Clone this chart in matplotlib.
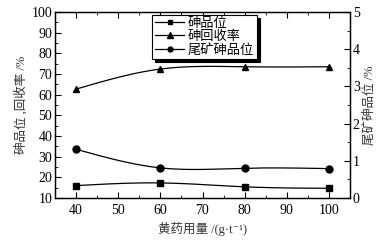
import numpy as np
import matplotlib.pyplot as plt
from matplotlib.ticker import MultipleLocator

plt.rcParams['font.family'] = ['Liberation Serif', 'Noto Sans CJK SC', 'DejaVu Serif']

dose = [40, 60, 80, 100]
grade = [16.0, 17.3, 15.4, 14.7]
recovery = [62.7, 72.4, 73.5, 73.5]
tail_grade = [1.31, 0.81, 0.80, 0.79]


def smooth(x, y, n=200):
    # natural cubic spline, only for drawing the connecting curve
    x = np.asarray(x, float)
    y = np.asarray(y, float)
    k = len(x)
    h = np.diff(x)
    A = np.zeros((k, k))
    b = np.zeros(k)
    A[0, 0] = A[-1, -1] = 1
    for i in range(1, k - 1):
        A[i, i - 1] = h[i - 1]
        A[i, i] = 2 * (h[i - 1] + h[i])
        A[i, i + 1] = h[i]
        b[i] = 6 * ((y[i + 1] - y[i]) / h[i] - (y[i] - y[i - 1]) / h[i - 1])
    M = np.linalg.solve(A, b)
    xs = np.linspace(x[0], x[-1], n)
    idx = np.clip(np.searchsorted(x, xs) - 1, 0, k - 2)
    x0, x1 = x[idx], x[idx + 1]
    hh = x1 - x0
    ys = (M[idx] * (x1 - xs) ** 3 / (6 * hh) + M[idx + 1] * (xs - x0) ** 3 / (6 * hh)
          + (y[idx] / hh - M[idx] * hh / 6) * (x1 - xs)
          + (y[idx + 1] / hh - M[idx + 1] * hh / 6) * (xs - x0))
    return xs, ys


fig = plt.figure(figsize=(3.92, 2.46), dpi=100)
ax = fig.add_axes([55 / 392, 48 / 246, 295 / 392, 186 / 246])
ax2 = ax.twinx()

lw = 0.9
for y, m in [(grade, 's'), (recovery, '^')]:
    xs, ys = smooth(dose, y)
    ax.plot(xs, ys, color='black', lw=lw)
    ax.plot(dose, y, m, color='black', ms=5 if m == '^' else 4.5, ls='none')
xs, ys = smooth(dose, tail_grade)
ax2.plot(xs, ys, color='black', lw=lw)
ax2.plot(dose, tail_grade, 'o', color='black', ms=5, ls='none')

h1, = ax.plot([], [], '-s', color='black', lw=lw, ms=3.5)
h2, = ax.plot([], [], '-^', color='black', lw=lw, ms=4)
h3, = ax.plot([], [], '-o', color='black', lw=lw, ms=3.5)

ax.set_xlim(35, 105)
ax.set_ylim(10, 100)
ax2.set_ylim(0, 5)
ax.xaxis.set_major_locator(MultipleLocator(10))
ax.xaxis.set_minor_locator(MultipleLocator(5))
ax.yaxis.set_major_locator(MultipleLocator(10))
ax.yaxis.set_minor_locator(MultipleLocator(5))
ax2.yaxis.set_major_locator(MultipleLocator(1))
ax2.yaxis.set_minor_locator(MultipleLocator(0.5))

ax.tick_params(axis='x', which='both', direction='in', top=True, labelsize=10, pad=4)
ax.tick_params(axis='y', which='both', direction='in', labelsize=10, pad=2)
ax.tick_params(which='major', length=4)
ax.tick_params(which='minor', length=2.5)
ax2.tick_params(axis='y', which='both', direction='in', labelsize=10, pad=2)
ax2.tick_params(which='major', length=4)
ax2.tick_params(which='minor', length=2.5)
for a in (ax, ax2):
    for s in a.spines.values():
        s.set_linewidth(0.9)

ax.set_xlabel('黄药用量 /(g·t⁻¹)', fontsize=9, color='#333333', labelpad=4)
ax.set_ylabel('砷品位 ,回收率 /%', fontsize=9, color='#333333', labelpad=3)
ax2.set_ylabel('尾矿砷品位 /%', fontsize=9, color='#333333', rotation=90, labelpad=3)

leg = ax.legend([h1, h2, h3], ['砷品位', '砷回收率', '尾矿砷品位'],
                loc='upper left', bbox_to_anchor=(0.33, 0.985), fontsize=9.5,
                frameon=True, fancybox=False, shadow={'color': 'black', 'alpha': 1},
                edgecolor='black', borderpad=0.2, labelspacing=0.05,
                handlelength=2.2, handletextpad=0.3, borderaxespad=0)
leg.get_frame().set_linewidth(0.8)

fig.savefig('out.png', dpi=100)
